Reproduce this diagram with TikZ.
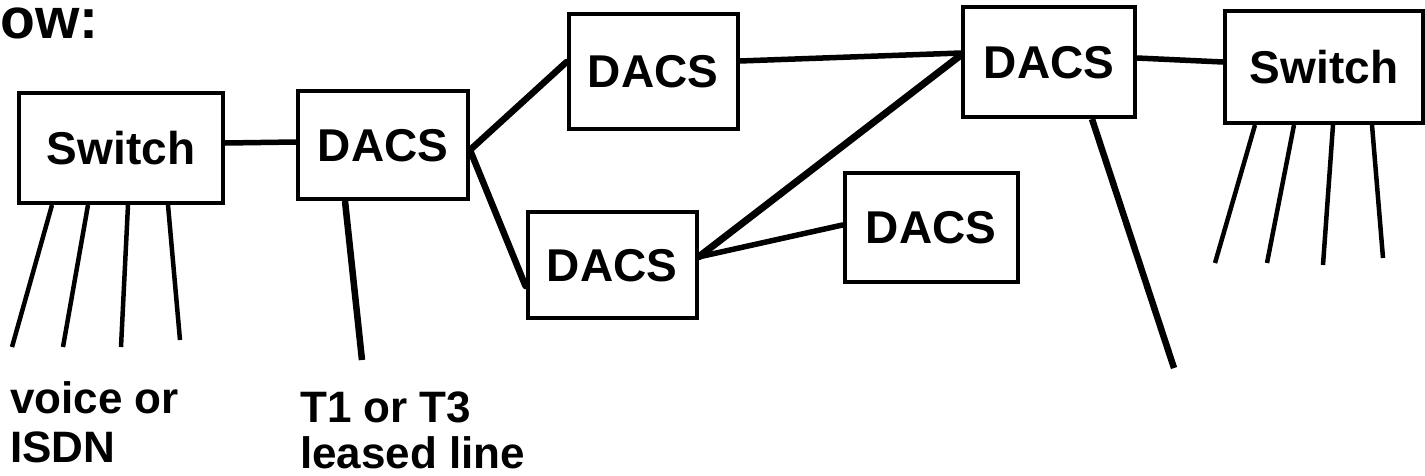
\documentclass[tikz,border=0pt]{standalone}
\usepackage{fontspec}
\setmainfont{Liberation Sans}
\begin{document}
\begin{tikzpicture}[x=1pt,y=-1pt,
  box/.style={draw,line width=4pt,inner sep=0pt,font=\bfseries\fontsize{46}{50}\selectfont,text height=33pt,text depth=0pt},
  link/.style={line width=6.5pt},
  thin link/.style={line width=5.5pt},
  leg/.style={line width=4.5pt},
  lbl/.style={inner sep=0pt,align=left,font=\bfseries\fontsize{44}{48}\selectfont}]
\useasboundingbox (0,0) rectangle (1425,475);
% boxes
\node[box,minimum width=204pt,minimum height=110pt] (s1) at (121,148) {Switch};
\node[box,minimum width=170pt,minimum height=108pt] (d1) at (383,145) {DACS};
\node[box,minimum width=169pt,minimum height=115pt] (dt) at (653,71) {DACS};
\node[box,minimum width=169pt,minimum height=106pt] (dm) at (612,265) {DACS};
\node[box,minimum width=173pt,minimum height=109pt] (ds) at (931,227) {DACS};
\node[box,minimum width=172pt,minimum height=110pt] (dr) at (1049,62) {DACS};
\node[box,minimum width=198pt,minimum height=112pt] (s2) at (1324,67) {Switch};
% heading and labels
\node[inner sep=0pt,anchor=base west,font=\bfseries\fontsize{57}{60}\selectfont] (hd) at (0,38) {ow:};
\node[lbl,anchor=base west] (lv) at (10,462) {voice or\\[1pt]ISDN};
\node[lbl,anchor=base west] (lt) at (300,468) {T1 or T3\\[-2pt]leased line};
% free ends
\coordinate (a1) at (12,347);
\coordinate (a2) at (63,347);
\coordinate (a3) at (121,347);
\coordinate (a4) at (180,340);
\coordinate (b1) at (362,360);
\coordinate (c1) at (1174,368);
\coordinate (e1) at (1215,263);
\coordinate (e2) at (1267,263);
\coordinate (e3) at (1323,265);
\coordinate (e4) at (1383,258);
% connectors
\draw[thin link] ([yshift=5pt]s1.east) -- ([yshift=3pt]d1.west);
\draw[link,line cap=round] ([yshift=-5pt]d1.east) -- ([yshift=9pt]dt.west);
\draw[link,line cap=round] ([yshift=-5pt]d1.east) -- ([yshift=-21pt]dm.west);
\draw[thin link] ([yshift=10pt]dt.east) -- ([yshift=9pt]dr.west);
\draw[link,line width=7pt,line cap=round] ([yshift=8pt]dm.east) -- ([yshift=7pt]dr.west);
\draw[thin link,line cap=round] ([yshift=8pt]dm.east) -- ([yshift=2pt]ds.west);
\draw[thin link] ([yshift=4pt]dr.east) -- ([yshift=5pt]s2.west);
% legs
\draw[leg] ([xshift=-69pt]s1.south) -- (a1);
\draw[leg] ([xshift=-33pt]s1.south) -- (a2);
\draw[leg] ([xshift=7pt]s1.south) -- (a3);
\draw[leg] ([xshift=47pt]s1.south) -- (a4);
\draw[link] ([xshift=-38pt]d1.south) -- (b1);
\draw[link] ([xshift=43pt]dr.south) -- (c1);
\draw[leg] ([xshift=-69pt]s2.south) -- (e1);
\draw[leg] ([xshift=-30pt]s2.south) -- (e2);
\draw[leg] ([xshift=9pt]s2.south) -- (e3);
\draw[leg] ([xshift=48pt]s2.south) -- (e4);
\end{tikzpicture}
\end{document}
